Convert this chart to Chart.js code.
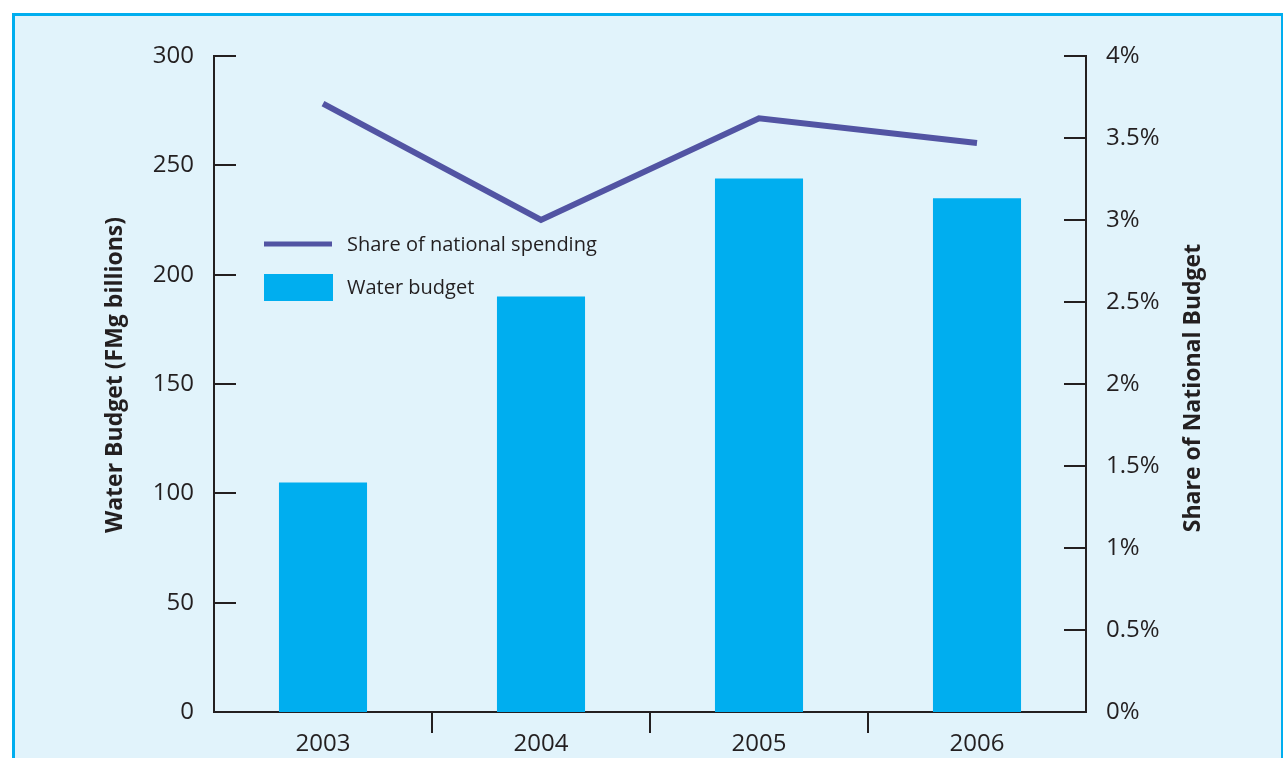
<!DOCTYPE html>
<html>
<head>
<meta charset="utf-8">
<script src="https://cdn.jsdelivr.net/npm/chart.js@4/dist/chart.umd.min.js"></script>
<style>
    body { margin: 0; background: #ffffff; }
    #panel {
        position: absolute; left: 12px; top: 13px; width: 1266px; height: 760px;
        background: #e1f3fb; border: 3px solid #00aeef; border-bottom: none;
    }
    #wrap { position: absolute; left: 0; top: 0; width: 1283px; height: 758px; }
</style>
</head>
<body>
<div id="panel"></div>
<div id="wrap"><canvas id="waterChart" width="1283" height="758"></canvas></div>
<script>
const years = ['2003', '2004', '2005', '2006'];
const waterBudget = [105, 190, 244, 235];
const nationalShare = [3.71, 3.0, 3.62, 3.47];
const leftTickLabels = ['0', '50', '100', '150', '200', '250', '300'];
const rightTickLabels = ['0%', '0.5%', '1%', '1.5%', '2%', '2.5%', '3%', '3.5%', '4%'];
const leftTitle = 'Water Budget (FMg billions)';
const rightTitle = 'Share of National Budget';

const inkColor = '#231f20';
const tickFont = { family: 'Open Sans', size: 24 };

// inward tick marks on both y axes, axis titles and the legend box
const decorPlugin = {
    id: 'decor',
    afterDraw: (chart) => {
        const ctx = chart.ctx;
        const yL = chart.scales.y;
        const yR = chart.scales.y2;
        ctx.save();
        ctx.strokeStyle = inkColor;
        ctx.lineWidth = 2;
        yL.ticks.forEach(t => {
            const py = Math.round(yL.getPixelForValue(t.value));
            ctx.beginPath();
            ctx.moveTo(yL.right, py);
            ctx.lineTo(yL.right + 22, py);
            ctx.stroke();
        });
        yR.ticks.forEach(t => {
            const py = Math.round(yR.getPixelForValue(t.value));
            ctx.beginPath();
            ctx.moveTo(yR.left, py);
            ctx.lineTo(yR.left - 22, py);
            ctx.stroke();
        });

        // axis titles, both read bottom to top
        ctx.fillStyle = inkColor;
        ctx.font = 'bold 23px "Open Sans"';
        ctx.textAlign = 'center';
        ctx.textBaseline = 'middle';
        [[115, 375, leftTitle], [1193, 388, rightTitle]].forEach(([x, y, txt]) => {
            ctx.save();
            ctx.translate(x, y);
            ctx.rotate(-Math.PI / 2);
            ctx.fillText(txt, 0, 0);
            ctx.restore();
        });

        // legend
        const lineDs = chart.data.datasets[0];
        const barDs = chart.data.datasets[1];
        ctx.strokeStyle = lineDs.borderColor;
        ctx.lineWidth = 5;
        ctx.beginPath();
        ctx.moveTo(264, 244);
        ctx.lineTo(332, 244);
        ctx.stroke();
        ctx.fillStyle = barDs.backgroundColor;
        ctx.fillRect(264, 274, 69, 27);
        ctx.fillStyle = inkColor;
        ctx.font = '20px "Open Sans"';
        ctx.textAlign = 'left';
        ctx.fillText(lineDs.label, 347, 245);
        ctx.fillText(barDs.label, 347, 288);
        ctx.restore();
    }
};

const chartCtx = document.getElementById('waterChart').getContext('2d');
new Chart(chartCtx, {
    data: {
        labels: years,
        datasets: [{
            type: 'line',
            label: 'Share of national spending',
            data: nationalShare,
            yAxisID: 'y2',
            borderColor: '#5254a3',
            borderWidth: 6,
            pointRadius: 0,
            borderCapStyle: 'butt',
            borderJoinStyle: 'miter',
            tension: 0,
            order: 0
        }, {
            type: 'bar',
            label: 'Water budget',
            data: waterBudget,
            yAxisID: 'y',
            backgroundColor: '#00aeef',
            categoryPercentage: 1,
            barPercentage: 0.404,
            order: 1
        }]
    },
    options: {
        responsive: false,
        animation: false,
        layout: { padding: { top: 56, left: 0, right: 0, bottom: 0 } },
        plugins: { legend: { display: false }, tooltip: { enabled: false } },
        scales: {
            x: {
                type: 'category',
                offset: true,
                afterFit: (scale) => { scale.height = 46; },
                grid: {
                    offset: true,
                    drawOnChartArea: false,
                    tickLength: 21,
                    lineWidth: 2,
                    color: (c) => (c.index === undefined || c.index === 0) ? 'rgba(0,0,0,0)' : inkColor
                },
                border: { display: true, color: inkColor, width: 2 },
                ticks: { color: inkColor, font: tickFont, padding: -3, maxRotation: 0 }
            },
            y: {
                position: 'left',
                min: 0,
                max: 300,
                afterFit: (scale) => { scale.width = 214; },
                grid: { display: false },
                border: { display: true, color: inkColor, width: 2 },
                ticks: {
                    stepSize: 50,
                    color: inkColor,
                    font: tickFont,
                    padding: 12,
                    callback: (v, i) => leftTickLabels[i]
                }
            },
            y2: {
                position: 'right',
                min: 0,
                max: 4,
                afterFit: (scale) => { scale.width = 197; },
                grid: { display: false },
                border: { display: true, color: inkColor, width: 2 },
                ticks: {
                    stepSize: 0.5,
                    color: inkColor,
                    font: tickFont,
                    padding: 12,
                    callback: (v, i) => rightTickLabels[i]
                }
            }
        }
    },
    plugins: [decorPlugin]
});
</script>
</body>
</html>
